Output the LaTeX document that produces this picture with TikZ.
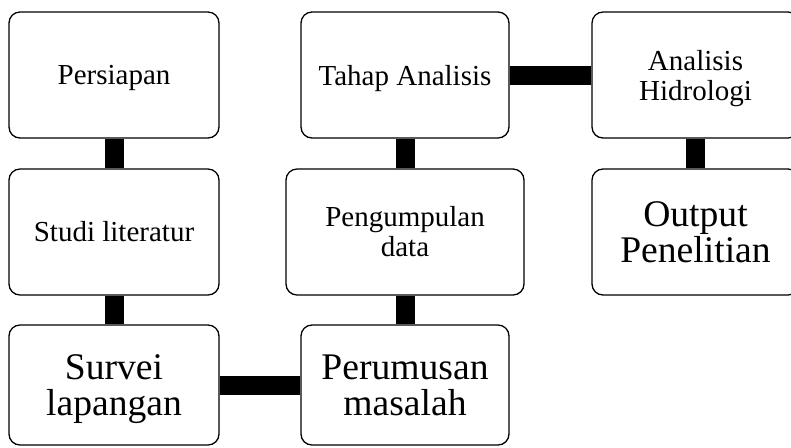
\documentclass[tikz,border=0pt]{standalone}
\usepackage{fontspec}
\setmainfont{Liberation Serif}
\begin{document}
\begin{tikzpicture}[x=0.5pt,y=-0.5pt,
  box/.style={draw, fill=white, rounded corners=5.5pt, line width=0.65pt, align=center, inner sep=0pt},
  smalltxt/.style={font=\fontsize{14.5}{15}\selectfont},
  bigtxt/.style={font=\fontsize{18.8}{17.8}\selectfont},
  nodepth/.style={text depth=0pt},
  conn/.style={line width=9.5pt, line cap=butt}]
\useasboundingbox (0,0) rectangle (791,447);
\clip (0,0) rectangle (791,447);
\node[box, smalltxt, nodepth, minimum width=105pt, minimum height=63pt] (b1) at (114,75) {Persiapan};
\node[box, smalltxt, minimum width=105pt, minimum height=63pt] (b2) at (114,232) {Studi literatur};
\node[box, bigtxt, nodepth, minimum width=105pt, minimum height=60pt] (b3) at (114,385) {Survei\\lapangan};
\node[box, bigtxt, nodepth, minimum width=104pt, minimum height=60pt] (b4) at (405,385) {Perumusan\\masalah};
\node[box, smalltxt, minimum width=119pt, minimum height=63pt] (b5) at (405,232) {Pengumpulan\\data};
\node[box, smalltxt, nodepth, minimum width=104pt, minimum height=63pt] (b6) at (405,75) {Tahap Analisis};
\node[box, smalltxt, nodepth, minimum width=103.5pt, minimum height=63pt] (b7) at (695.5,75) {Analisis\\Hidrologi};
\node[box, bigtxt, minimum width=103.5pt, minimum height=63pt] (b8) at (695.5,232) {Output\\Penelitian};
\draw[conn] (b1.south) -- (b2.north);
\draw[conn] (b2.south) -- (b3.north);
\draw[conn] (b3.east) -- (b4.west);
\draw[conn] (b4.north) -- (b5.south);
\draw[conn] (b5.north) -- (b6.south);
\draw[conn] (b6.east) -- (b7.west);
\draw[conn] (b7.south) -- (b8.north);
\end{tikzpicture}
\end{document}
